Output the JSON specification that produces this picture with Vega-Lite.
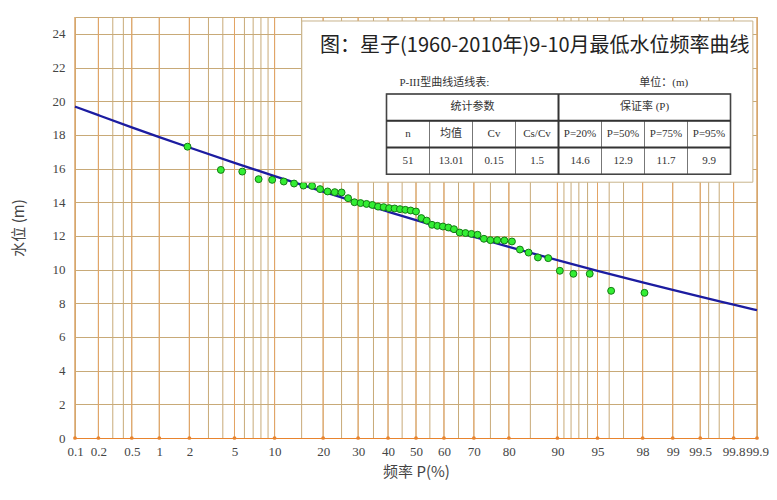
{
  "$schema": "https://vega.github.io/schema/vega-lite/v6.json",
  "width": 682,
  "height": 421,
  "autosize": {"type": "none"},
  "padding": {"left": 75, "top": 17, "right": 19, "bottom": 62},
  "background": "white",
  "config": {"view": {"stroke": "#c8aa78", "strokeWidth": 1}, "font": "Liberation Serif"},
  "datasets": {
    "obs": [
      {"P": 1.92, "level": 17.3}, {"P": 3.85, "level": 15.92}, {"P": 5.77, "level": 15.82}, {"P": 7.69, "level": 15.37},
      {"P": 9.62, "level": 15.33}, {"P": 11.54, "level": 15.23}, {"P": 13.46, "level": 15.11}, {"P": 15.38, "level": 14.99},
      {"P": 17.31, "level": 14.97}, {"P": 19.23, "level": 14.78}, {"P": 21.15, "level": 14.64}, {"P": 23.08, "level": 14.6},
      {"P": 25.0, "level": 14.58}, {"P": 26.92, "level": 14.24}, {"P": 28.85, "level": 14.0}, {"P": 30.77, "level": 13.95},
      {"P": 32.69, "level": 13.9}, {"P": 34.62, "level": 13.84}, {"P": 36.54, "level": 13.74}, {"P": 38.46, "level": 13.71},
      {"P": 40.38, "level": 13.65}, {"P": 42.31, "level": 13.63}, {"P": 44.23, "level": 13.59}, {"P": 46.15, "level": 13.55},
      {"P": 48.08, "level": 13.51}, {"P": 50.0, "level": 13.45}, {"P": 51.92, "level": 13.06}, {"P": 53.85, "level": 12.91},
      {"P": 55.77, "level": 12.66}, {"P": 57.69, "level": 12.6}, {"P": 59.62, "level": 12.56}, {"P": 61.54, "level": 12.5},
      {"P": 63.46, "level": 12.4}, {"P": 65.38, "level": 12.2}, {"P": 67.31, "level": 12.17}, {"P": 69.23, "level": 12.12},
      {"P": 71.15, "level": 12.07}, {"P": 73.08, "level": 11.83}, {"P": 75.0, "level": 11.75}, {"P": 76.92, "level": 11.75},
      {"P": 78.85, "level": 11.73}, {"P": 80.77, "level": 11.67}, {"P": 82.69, "level": 11.19}, {"P": 84.62, "level": 11.01},
      {"P": 86.54, "level": 10.72}, {"P": 88.46, "level": 10.68}, {"P": 90.38, "level": 9.93}, {"P": 92.31, "level": 9.75},
      {"P": 94.23, "level": 9.75}, {"P": 96.15, "level": 8.74}, {"P": 98.08, "level": 8.62}
    ],
    "curve": [
      {"P": 0.1, "level": 19.68}, {"P": 0.2, "level": 19.17}, {"P": 0.5, "level": 18.45}, {"P": 1, "level": 17.87},
      {"P": 2, "level": 17.25}, {"P": 5, "level": 16.34}, {"P": 10, "level": 15.55}, {"P": 20, "level": 14.63},
      {"P": 30, "level": 13.98}, {"P": 40, "level": 13.44}, {"P": 50, "level": 12.94}, {"P": 60, "level": 12.45},
      {"P": 70, "level": 11.94}, {"P": 80, "level": 11.35}, {"P": 90, "level": 10.56}, {"P": 95, "level": 9.93},
      {"P": 98, "level": 9.24}, {"P": 99, "level": 8.79}, {"P": 99.5, "level": 8.39}, {"P": 99.8, "level": 7.92},
      {"P": 99.9, "level": 7.59}
    ],
    "grid": [
      {"P": 0.1}, {"P": 0.2}, {"P": 0.3}, {"P": 0.4}, {"P": 0.5}, {"P": 1}, {"P": 2}, {"P": 3}, {"P": 4}, {"P": 5},
      {"P": 6}, {"P": 7}, {"P": 8}, {"P": 9}, {"P": 10}, {"P": 15}, {"P": 20}, {"P": 25}, {"P": 30}, {"P": 35},
      {"P": 40}, {"P": 45}, {"P": 50}, {"P": 55}, {"P": 60}, {"P": 65}, {"P": 70}, {"P": 75}, {"P": 80}, {"P": 85},
      {"P": 90}, {"P": 91}, {"P": 92}, {"P": 93}, {"P": 94}, {"P": 95}, {"P": 96}, {"P": 97}, {"P": 98}, {"P": 99},
      {"P": 99.5}, {"P": 99.6}, {"P": 99.7}, {"P": 99.8}, {"P": 99.9}
    ],
    "major": [
      {"P": 0.1}, {"P": 0.2}, {"P": 0.5}, {"P": 1}, {"P": 2}, {"P": 5}, {"P": 10}, {"P": 20}, {"P": 30}, {"P": 40},
      {"P": 50}, {"P": 60}, {"P": 70}, {"P": 80}, {"P": 90}, {"P": 95}, {"P": 98}, {"P": 99}, {"P": 99.5}, {"P": 99.8},
      {"P": 99.9}
    ],
    "cells": [
      {"row": 0, "c0": 0, "c1": 4, "text": "统计参数"},
      {"row": 0, "c0": 4, "c1": 8, "text": "保证率 (P)"},
      {"row": 1, "c0": 0, "c1": 1, "text": "n"},
      {"row": 1, "c0": 1, "c1": 2, "text": "均值"},
      {"row": 1, "c0": 2, "c1": 3, "text": "Cv"},
      {"row": 1, "c0": 3, "c1": 4, "text": "Cs/Cv"},
      {"row": 1, "c0": 4, "c1": 5, "text": "P=20%"},
      {"row": 1, "c0": 5, "c1": 6, "text": "P=50%"},
      {"row": 1, "c0": 6, "c1": 7, "text": "P=75%"},
      {"row": 1, "c0": 7, "c1": 8, "text": "P=95%"},
      {"row": 2, "c0": 0, "c1": 1, "text": "51"},
      {"row": 2, "c0": 1, "c1": 2, "text": "13.01"},
      {"row": 2, "c0": 2, "c1": 3, "text": "0.15"},
      {"row": 2, "c0": 3, "c1": 4, "text": "1.5"},
      {"row": 2, "c0": 4, "c1": 5, "text": "14.6"},
      {"row": 2, "c0": 5, "c1": 6, "text": "12.9"},
      {"row": 2, "c0": 6, "c1": 7, "text": "11.7"},
      {"row": 2, "c0": 7, "c1": 8, "text": "9.9"}
    ]
  },
  "layer": [
    {
      "encoding": {
        "x": {
          "field": "z", "type": "quantitative",
          "scale": {"domain": [-3.0902, 3.0902], "nice": false, "zero": false},
          "axis": {
            "values": [-3.0902, -2.8782, -2.5758, -2.3263, -2.0537, -1.6449, -1.2816, -0.8416, -0.5244, -0.2533, 0, 0.2533, 0.5244, 0.8416, 1.2816, 1.6449, 2.0537, 2.3263, 2.5758, 2.8782, 3.0902],
            "labelExpr": "toString(round(cumulativeNormal(datum.value)*1000)/10)",
            "title": "频率 P(%)",
            "grid": false, "ticks": false,
            "domainColor": "#e8842e", "domainWidth": 1,
            "labelFont": "Liberation Serif", "labelFontSize": 13, "labelColor": "#444",
            "labelPadding": 7, "labelOverlap": false, "labelFlush": false, "labelBound": false,
            "titleFont": "Noto Sans CJK SC", "titleFontSize": 15, "titleFontWeight": "normal", "titleColor": "#444", "titlePadding": 6
          }
        }
      },
      "layer": [
        {
          "data": {"name": "grid"},
          "transform": [{"calculate": "quantileNormal(datum.P/100)", "as": "z"}],
          "mark": {"type": "rule", "color": "#c8aa78", "strokeWidth": 1},
          "encoding": {}
        },
        {
          "data": {"name": "major"},
          "transform": [{"calculate": "quantileNormal(datum.P/100)", "as": "z"}],
          "mark": {"type": "rule", "color": "#e3a465", "strokeWidth": 1},
          "encoding": {}
        },
        {
          "data": {"name": "major"},
          "transform": [{"calculate": "quantileNormal(datum.P/100)", "as": "z"}],
          "mark": {"type": "point", "filled": true, "color": "#e8842e", "size": 14, "opacity": 1},
          "encoding": {
            "y": {"datum": 0, "type": "quantitative", "scale": {"domain": [0, 25], "nice": false, "zero": false},
              "axis": {"values": [0, 2, 4, 6, 8, 10, 12, 14, 16, 18, 20, 22, 24], "title": "水位 (m)", "grid": true, "gridColor": "#c8aa78", "gridWidth": 1, "ticks": false, "domain": false,
                "labelFont": "Liberation Serif", "labelFontSize": 13, "labelColor": "#444", "labelPadding": 10,
                "titleFont": "Noto Sans CJK SC", "titleFontSize": 15, "titleFontWeight": "normal", "titleColor": "#444", "titlePadding": 26}}
          }
        },
        {
          "data": {"name": "curve"},
          "transform": [{"calculate": "quantileNormal(datum.P/100)", "as": "z"}],
          "mark": {"type": "line", "color": "#1c1ca0", "strokeWidth": 2.3, "interpolate": "monotone"},
          "encoding": {
            "y": {"field": "level", "type": "quantitative", "scale": {"domain": [0, 25], "nice": false, "zero": false},
              "axis": {"values": [0, 2, 4, 6, 8, 10, 12, 14, 16, 18, 20, 22, 24], "title": "水位 (m)", "grid": true, "gridColor": "#c8aa78", "gridWidth": 1, "ticks": false, "domain": false,
                "labelFont": "Liberation Serif", "labelFontSize": 13, "labelColor": "#444", "labelPadding": 10,
                "titleFont": "Noto Sans CJK SC", "titleFontSize": 15, "titleFontWeight": "normal", "titleColor": "#444", "titlePadding": 26}}
          }
        },
        {
          "data": {"name": "obs"},
          "transform": [{"calculate": "quantileNormal(datum.P/100)", "as": "z"}],
          "mark": {"type": "point", "filled": true, "fill": "#33ee33", "stroke": "#157a15", "strokeWidth": 1, "size": 48, "opacity": 1},
          "encoding": {
            "y": {"field": "level", "type": "quantitative", "scale": {"domain": [0, 25], "nice": false, "zero": false},
              "axis": {"values": [0, 2, 4, 6, 8, 10, 12, 14, 16, 18, 20, 22, 24], "title": "水位 (m)", "grid": true, "gridColor": "#c8aa78", "gridWidth": 1, "ticks": false, "domain": false,
                "labelFont": "Liberation Serif", "labelFontSize": 13, "labelColor": "#444", "labelPadding": 10,
                "titleFont": "Noto Sans CJK SC", "titleFontSize": 15, "titleFontWeight": "normal", "titleColor": "#444", "titlePadding": 26}}
          }
        }
      ]
    },
    {
      "layer": [
        {
          "data": {"values": [{}]},
          "mark": {"type": "rect", "fill": "white", "stroke": "#c8b48c", "strokeWidth": 1},
          "encoding": {
            "x": {"datum": -1.97, "type": "quantitative", "scale": {"domain": [-7.244, 8.616], "nice": false, "zero": false}, "axis": null},
            "x2": {"datum": 8.52},
            "y": {"datum": -2.727, "type": "quantitative", "scale": {"domain": [-2.876, 12.85], "nice": false, "zero": false, "reverse": true}, "axis": null},
            "y2": {"datum": 3.295}
          }
        },
        {
          "data": {"values": [{"t": "图：星子(1960-2010年)9-10月最低水位频率曲线"}]},
          "mark": {"type": "text", "font": "Noto Sans CJK SC", "fontSize": 20, "color": "#222", "align": "center", "baseline": "middle"},
          "encoding": {
            "x": {"datum": 3.45, "type": "quantitative", "axis": null},
            "y": {"datum": -1.81, "type": "quantitative", "axis": null},
            "text": {"field": "t"}
          }
        },
        {
          "data": {"values": [{"t": "P-III型曲线适线表:"}]},
          "mark": {"type": "text", "font": "Liberation Serif, Noto Sans CJK SC", "fontSize": 11, "color": "#333", "align": "left", "baseline": "middle"},
          "encoding": {
            "x": {"datum": 0.3, "type": "quantitative", "axis": null},
            "y": {"datum": -0.41, "type": "quantitative", "axis": null},
            "text": {"field": "t"}
          }
        },
        {
          "data": {"values": [{"t": "单位：(m)"}]},
          "mark": {"type": "text", "font": "Liberation Serif, Noto Sans CJK SC", "fontSize": 11, "color": "#333", "align": "left", "baseline": "middle"},
          "encoding": {
            "x": {"datum": 5.88, "type": "quantitative", "axis": null},
            "y": {"datum": -0.41, "type": "quantitative", "axis": null},
            "text": {"field": "t"}
          }
        },
        {
          "data": {"name": "cells"},
          "transform": [{"calculate": "datum.row + 1", "as": "r1"}],
          "mark": {"type": "rect", "fill": "white", "stroke": "#777", "strokeWidth": 1},
          "encoding": {
            "x": {"field": "c0", "type": "quantitative", "axis": null},
            "x2": {"field": "c1"},
            "y": {"field": "row", "type": "quantitative", "axis": null},
            "y2": {"field": "r1"}
          }
        },
        {
          "data": {"values": [{}]},
          "mark": {"type": "rect", "fill": null, "fillOpacity": 0, "stroke": "#444", "strokeWidth": 1.6},
          "encoding": {
            "x": {"datum": 0, "type": "quantitative", "axis": null},
            "x2": {"datum": 8},
            "y": {"datum": 0, "type": "quantitative", "axis": null},
            "y2": {"datum": 3}
          }
        },
        {
          "data": {"values": [{}]},
          "mark": {"type": "rule", "color": "#333", "strokeWidth": 2},
          "encoding": {
            "x": {"datum": 0, "type": "quantitative", "axis": null},
            "x2": {"datum": 8},
            "y": {"datum": 1, "type": "quantitative", "axis": null}
          }
        },
        {
          "data": {"values": [{}]},
          "mark": {"type": "rule", "color": "#333", "strokeWidth": 2},
          "encoding": {
            "x": {"datum": 0, "type": "quantitative", "axis": null},
            "x2": {"datum": 8},
            "y": {"datum": 2, "type": "quantitative", "axis": null}
          }
        },
        {
          "data": {"values": [{}]},
          "mark": {"type": "rule", "color": "#333", "strokeWidth": 2},
          "encoding": {
            "x": {"datum": 4, "type": "quantitative", "axis": null},
            "y": {"datum": 0, "type": "quantitative", "axis": null},
            "y2": {"datum": 3}
          }
        },
        {
          "data": {"name": "cells"},
          "transform": [
            {"calculate": "(datum.c0 + datum.c1) / 2", "as": "xc"},
            {"calculate": "datum.row + 0.5", "as": "yc"}
          ],
          "mark": {"type": "text", "font": "Liberation Serif, Noto Sans CJK SC", "fontSize": 11, "color": "#333", "align": "center", "baseline": "middle"},
          "encoding": {
            "x": {"field": "xc", "type": "quantitative", "axis": null},
            "y": {"field": "yc", "type": "quantitative", "axis": null},
            "text": {"field": "text"}
          }
        }
      ]
    }
  ],
  "resolve": {"scale": {"x": "independent", "y": "independent"}}
}
